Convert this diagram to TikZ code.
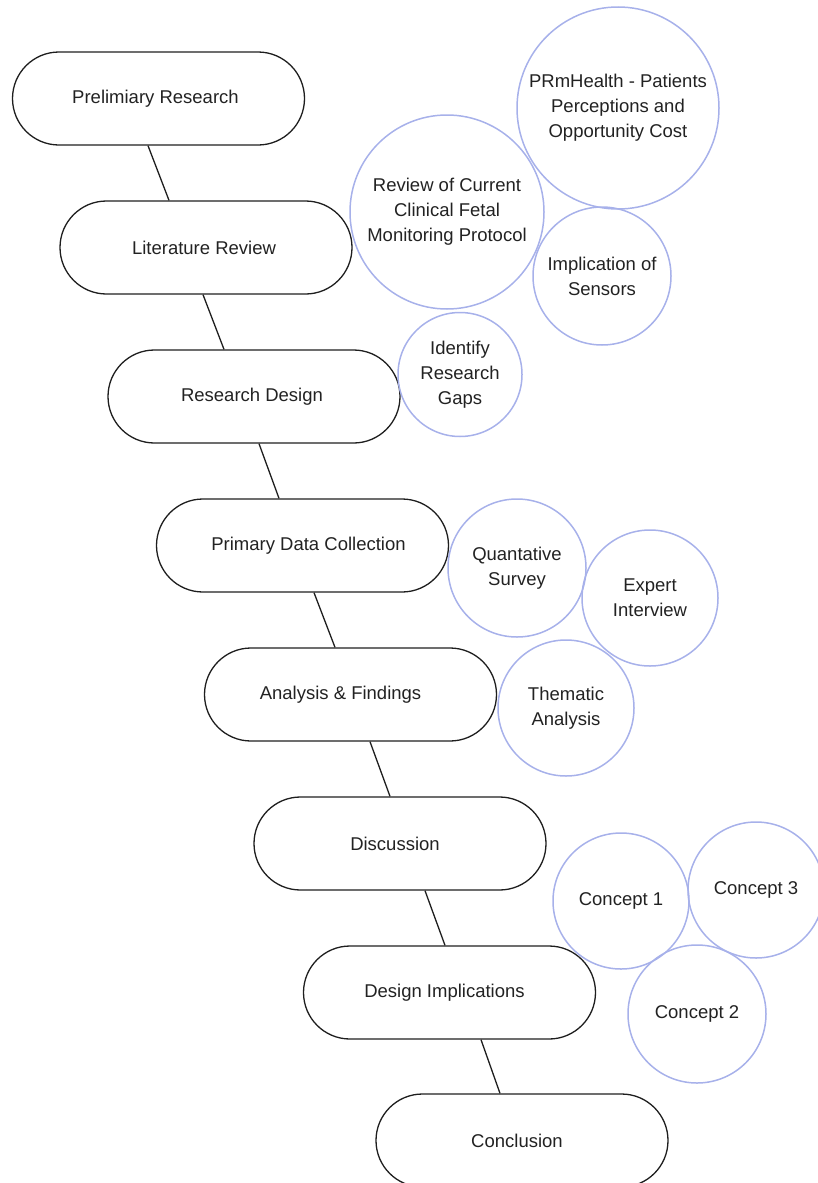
\documentclass[tikz,border=0pt]{standalone}
\usepackage{fontspec}
\setmainfont{Liberation Sans}
\usetikzlibrary{shapes.misc}
\definecolor{pillline}{HTML}{1E1E1E}
\definecolor{bubble}{HTML}{A7B1EA}
\definecolor{txt}{HTML}{222222}
\tikzset{
  pill/.style={rounded rectangle, draw=pillline, line width=1.3pt, minimum width=292pt, minimum height=93pt, inner sep=0pt, text=txt, font=\fontsize{18.5}{25}\selectfont},
  bubblenode/.style={circle, draw=bubble, line width=1.5pt, inner sep=0pt, align=center, text=txt, font=\fontsize{18.5}{25}\selectfont},
  link/.style={draw=pillline, line width=1.3pt}
}
\begin{document}
\begin{tikzpicture}[x=1pt,y=-1pt]
\useasboundingbox (0,0) rectangle (817,1183);
% pills
\node[pill] (p1) at (158.5,98.5) {Prelimiary Research\hspace*{6pt}};
\node[pill] (p2) at (206,247.5) {Literature Review\hspace*{4pt}};
\node[pill] (p3) at (254,396.5) {Research Design\hspace*{4pt}};
\node[pill] (p4) at (302.5,545.5) {\hspace*{12pt}Primary Data Collection};
\node[pill] (p5) at (350.5,694.5) {Analysis \& Findings\hspace*{20pt}};
\node[pill] (p6) at (400,843.5) {Discussion\hspace*{10pt}};
\node[pill] (p7) at (449.5,992.5) {Design Implications\hspace*{10pt}};
\node[pill] (p8) at (522,1140.5) {Conclusion\hspace*{10pt}};
% connectors
\draw[link] ([xshift=-10.5pt]p1.south) -- ([xshift=-37pt]p2.north);
\draw[link] ([xshift=-3pt]p2.south) -- ([xshift=-30pt]p3.north);
\draw[link] ([xshift=5pt]p3.south) -- ([xshift=-23.5pt]p4.north);
\draw[link] ([xshift=11.5pt]p4.south) -- ([xshift=-15.5pt]p5.north);
\draw[link] ([xshift=19.5pt]p5.south) -- ([xshift=-10pt]p6.north);
\draw[link] ([xshift=25pt]p6.south) -- ([xshift=-4.5pt]p7.north);
\draw[link] ([xshift=31.5pt]p7.south) -- ([xshift=-22pt]p8.north);
% bubbles
\node[bubblenode, minimum size=202pt] (prm) at (618,108) {PRmHealth - Patients\\Perceptions and\\Opportunity Cost};
\node[bubblenode, minimum size=194pt] (rev) at (447,212) {Review of Current\\Clinical Fetal\\Monitoring Protocol};
\node[bubblenode, minimum size=138pt] (imp) at (602,276) {Implication of\\Sensors};
\node[bubblenode, minimum size=124pt] (gap) at (460,374.5) {Identify\\Research\\Gaps};
\node[bubblenode, minimum size=138pt] (qs) at (517,568) {Quantative\\Survey};
\node[bubblenode, minimum size=136pt] (ei) at (650,598) {Expert\\Interview};
\node[bubblenode, minimum size=136pt] (ta) at (566,708) {Thematic\\Analysis};
\node[bubblenode, minimum size=136pt] (c1) at (621,901) {Concept 1};
\node[bubblenode, minimum size=136pt] (c3) at (756,890) {Concept 3};
\node[bubblenode, minimum size=138pt] (c2) at (697,1014) {Concept 2};
\end{tikzpicture}
\end{document}
